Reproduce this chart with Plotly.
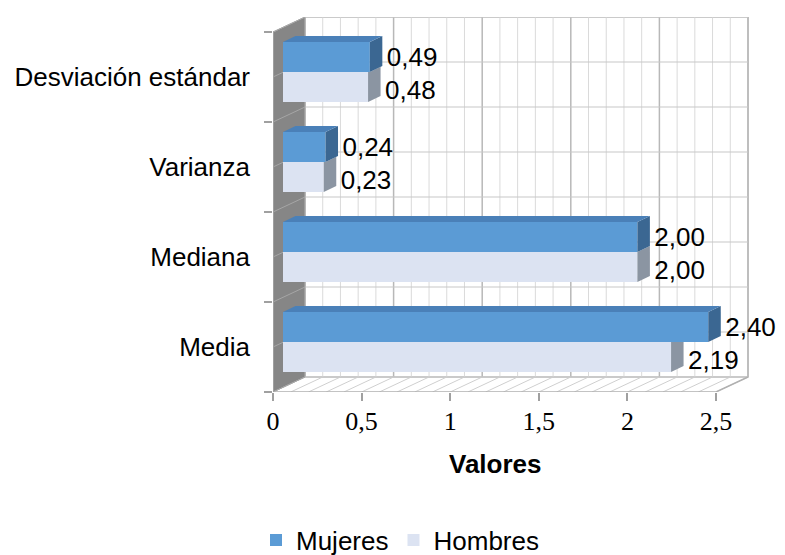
import plotly.graph_objects as go

# ---------------- data ----------------
categories = ["Media", "Mediana", "Varianza", "Desviación estándar"]
mujeres = [2.40, 2.00, 0.24, 0.49]
hombres = [2.19, 2.00, 0.23, 0.48]
mujeres_labels = ["2,40", "2,00", "0,24", "0,49"]
hombres_labels = ["2,19", "2,00", "0,23", "0,48"]
x_tick_values = [0, 0.5, 1, 1.5, 2, 2.5]
x_tick_labels = ["0", "0,5", "1", "1,5", "2", "2,5"]

# ---------------- geometry (styling constants) ----------------
OFF = 8                       # page body margin
W, H = 785 - OFF, 555 - OFF
PX_X = 177.2                  # px per value unit
PX_Y = 90.0                   # px per category
PL, PR, PT, PB = 273, 765, 17, 392
L, T = PL - OFF, PT - OFF
R, B = W - (PR - OFF), H - (PB - OFF)
plot_w = PR - PL
plot_h = PB - PT
X0_PX, YC_PX = 283, 342
x_min = (PL - X0_PX) / PX_X
x_max = (PR - X0_PX) / PX_X
y_min = (YC_PX - PB) / PX_Y
y_max = (YC_PX - PT) / PX_Y

FX, FY = -10 / PX_X, -5 / PX_Y    # front plane offset
BX, BY = 22 / PX_X, 10 / PX_Y     # back wall offset
DX, DY = 12.5 / PX_X, 6 / PX_Y    # bar depth
BH = 30 / PX_Y                    # bar thickness
XMAX = 2.5
n = len(categories)
y_lo, y_hi = -0.5, n - 0.5

C_M, C_M_TOP, C_M_SIDE = "#5b9bd5", "#4a80b8", "#3b6792"
C_H, C_H_SIDE = "#dce3f2", "#8b95a2"
WALL = "#868686"
FS = 26

fig = go.Figure()

# ---------------- walls / floor / grid as shapes ----------------
shapes = []
shapes.append(dict(type="rect", xref="x", yref="y", layer="below",
                   x0=BX, x1=XMAX + BX, y0=y_lo + BY, y1=y_hi + BY,
                   fillcolor="white", line=dict(color="#bdbdbd", width=1.5)))
for i in range(26):
    t = i * 0.1
    major = (i % 5 == 0)
    col = "#b8b8b8" if major else "#dadada"
    wid = 1.5 if major else 1
    shapes.append(dict(type="line", xref="x", yref="y", layer="below",
                       x0=t + BX, x1=t + BX, y0=y_lo + BY, y1=y_hi + BY,
                       line=dict(color=col, width=wid)))
    shapes.append(dict(type="line", xref="x", yref="y", layer="below",
                       x0=t + BX, x1=t + FX, y0=y_lo + BY, y1=y_lo + FY,
                       line=dict(color="#cfcfcf", width=1)))
for j in range(2 * n + 1):
    yy = y_lo + 0.5 * j
    shapes.append(dict(type="line", xref="x", yref="y", layer="below",
                       x0=BX, x1=XMAX + BX, y0=yy + BY, y1=yy + BY,
                       line=dict(color="#c8c8c8", width=1.2)))
shapes.append(dict(type="path", xref="x", yref="y", layer="below",
                   path=f"M {FX},{y_lo+FY} L {FX},{y_hi+FY} L {BX},{y_hi+BY} L {BX},{y_lo+BY} Z",
                   fillcolor=WALL, line=dict(color="#b0b0b0", width=1)))
for j in range(2 * n + 1):
    yy = y_lo + 0.5 * j
    shapes.append(dict(type="line", xref="x", yref="y", layer="below",
                       x0=FX, x1=BX, y0=yy + FY, y1=yy + BY,
                       line=dict(color="#a6a6a6", width=1)))
shapes.append(dict(type="path", xref="x", yref="y", layer="below",
                   path=f"M {FX},{y_lo+FY} L {XMAX+FX},{y_lo+FY} L {XMAX+BX},{y_lo+BY}",
                   line=dict(color="#b0b0b0", width=1.5)))
shapes.append(dict(type="line", xref="x", yref="y", layer="below",
                   x0=FX, x1=FX, y0=y_lo + FY, y1=y_hi + FY,
                   line=dict(color="#a0a0a0", width=1.5)))

# ---------------- bars ----------------
ypos = list(range(n))
fig.add_trace(go.Bar(name="Mujeres", orientation="h", x=mujeres, y=ypos,
                     offset=0, width=BH, marker=dict(color=C_M, line=dict(width=0))))
fig.add_trace(go.Bar(name="Hombres", orientation="h", x=hombres, y=ypos,
                     offset=-BH, width=BH, marker=dict(color=C_H, line=dict(width=0))))

# ---------------- 3D faces derived from values ----------------
def poly(xs, ys, color):
    fig.add_trace(go.Scatter(x=xs + [xs[0]], y=ys + [ys[0]], mode="lines", fill="toself",
                             fillcolor=color, line=dict(width=0, color=color),
                             hoverinfo="skip", showlegend=False))

for k in range(n):
    vm, vh = mujeres[k], hombres[k]
    if vm >= vh + DX:
        poly([vh, vh + DX, vh + DX, vh], [k - BH, k - BH + DY, k, k], C_H_SIDE)
    else:
        cy = k + (vh + DX - vm) * DY / DX
        poly([vh, vh + DX, vh + DX, vm, vh], [k - BH, k - BH + DY, cy, k, k], C_H_SIDE)
    poly([vm, vm + DX, vm + DX, vm], [k, k + DY, k + BH + DY, k + BH], C_M_SIDE)
    poly([0, vm, vm + DX, DX], [k + BH, k + BH, k + BH + DY, k + BH + DY], C_M_TOP)

# ---------------- data labels ----------------
lab_font = dict(family="Liberation Sans, Arial", size=FS, color="black")
fig.add_trace(go.Scatter(x=[v + DX + 0.025 for v in mujeres], y=[k + BH / 2 - 0.03 for k in ypos],
                         mode="text", text=mujeres_labels, textposition="middle right",
                         textfont=lab_font, cliponaxis=False, showlegend=False, hoverinfo="skip"))
fig.add_trace(go.Scatter(x=[v + DX + 0.025 for v in hombres], y=[k - BH / 2 - 0.06 for k in ypos],
                         mode="text", text=hombres_labels, textposition="middle right",
                         textfont=lab_font, cliponaxis=False, showlegend=False, hoverinfo="skip"))

# ---------------- layout ----------------
fig.update_layout(
    width=W, height=H,
    margin=dict(l=L, r=R, t=T, b=B, pad=0, autoexpand=False),
    paper_bgcolor="white", plot_bgcolor="white",
    shapes=shapes,
    barmode="overlay",
    showlegend=True,
    legend=dict(orientation="h", xref="container", yref="container",
                x=(400 - OFF) / W, xanchor="center", y=(H - (540 - OFF)) / H, yanchor="middle",
                font=dict(family="Liberation Sans, Arial", size=FS, color="black"),
                traceorder="normal", itemwidth=30),
    xaxis=dict(range=[x_min, x_max], showgrid=False, zeroline=False, showline=False,
               automargin=False,
               tickvals=[t + FX for t in x_tick_values], ticktext=x_tick_labels,
               ticks="outside", ticklen=8, tickcolor="#a0a0a0", tickwidth=1.5,
               tickfont=dict(family="Liberation Serif, Times New Roman", size=FS, color="black"),
               ticklabelstandoff=-2),
    yaxis=dict(range=[y_min, y_max], showgrid=False, zeroline=False, showline=False,
               automargin=False,
               tickvals=[k + FY for k in ypos], ticktext=categories,
               ticks="", ticklabelstandoff=22,
               minor=dict(tickvals=[y_lo + j + FY for j in range(n + 1)], ticks="outside",
                          ticklen=8, tickcolor="#a0a0a0", tickwidth=1.5, showgrid=False),
               tickfont=dict(family="Liberation Sans, Arial", size=FS, color="black")),
    annotations=[dict(text="<b>Valores</b>", xref="paper", yref="paper",
                      x=(495 - PL) / plot_w, y=(PB - 464) / plot_h,
                      xanchor="center", yanchor="middle", showarrow=False,
                      font=dict(family="Liberation Sans, Arial", size=FS, color="black"))],
)

fig.write_html("out.html")
